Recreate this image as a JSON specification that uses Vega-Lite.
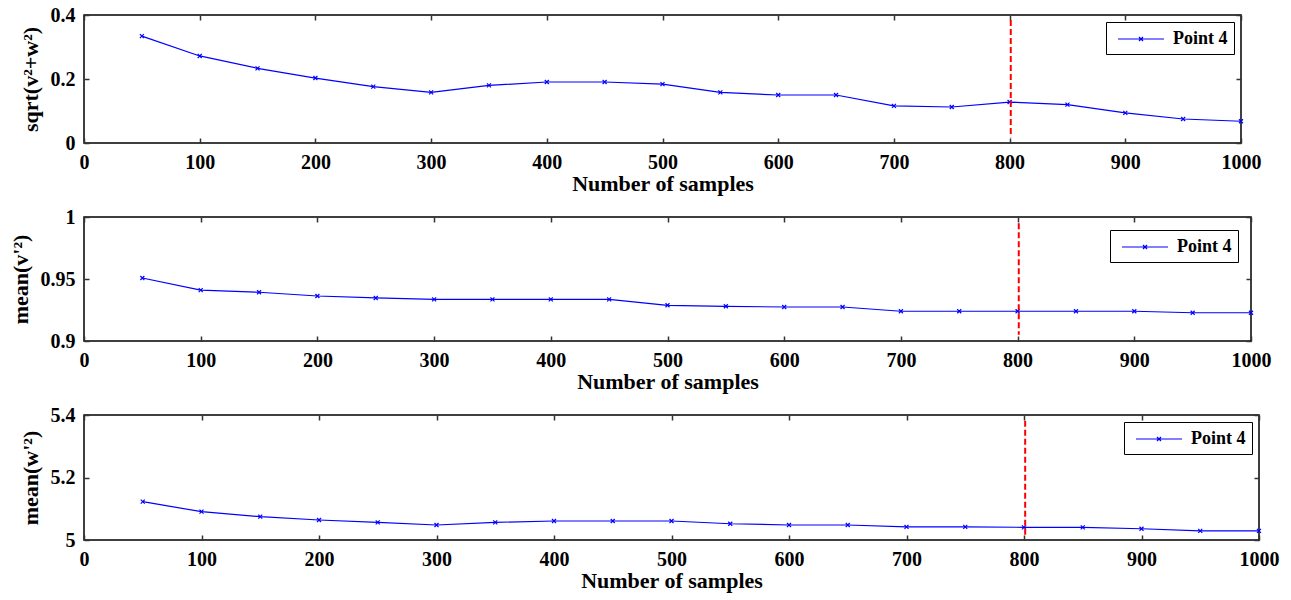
{
  "$schema": "https://vega.github.io/schema/vega-lite/v6.json",
  "padding": {"left": 8, "top": 4, "right": 5, "bottom": 5},
  "background": "white",
  "datasets": {
    "main": [
      {"n": 50, "s": 0.334, "v": 0.9508, "w": 5.1226},
      {"n": 100, "s": 0.272, "v": 0.941, "w": 5.0906},
      {"n": 150, "s": 0.2334, "v": 0.9393, "w": 5.0746},
      {"n": 200, "s": 0.203, "v": 0.9363, "w": 5.064},
      {"n": 250, "s": 0.176, "v": 0.9347, "w": 5.0566},
      {"n": 300, "s": 0.158, "v": 0.9336, "w": 5.048},
      {"n": 350, "s": 0.18, "v": 0.9336, "w": 5.0566},
      {"n": 400, "s": 0.1906, "v": 0.9336, "w": 5.0608},
      {"n": 450, "s": 0.1906, "v": 0.9336, "w": 5.0608},
      {"n": 500, "s": 0.184, "v": 0.9288, "w": 5.0608},
      {"n": 550, "s": 0.158, "v": 0.928, "w": 5.052},
      {"n": 600, "s": 0.15, "v": 0.9274, "w": 5.048},
      {"n": 650, "s": 0.15, "v": 0.9274, "w": 5.048},
      {"n": 700, "s": 0.116, "v": 0.924, "w": 5.042},
      {"n": 750, "s": 0.1125, "v": 0.924, "w": 5.042},
      {"n": 800, "s": 0.128, "v": 0.924, "w": 5.0406},
      {"n": 850, "s": 0.12, "v": 0.924, "w": 5.0406},
      {"n": 900, "s": 0.094, "v": 0.924, "w": 5.036},
      {"n": 950, "s": 0.075, "v": 0.9228, "w": 5.029},
      {"n": 1000, "s": 0.068, "v": 0.9228, "w": 5.029}
    ]
  },
  "vconcat": [
    {
      "width": 1157, "height": 128,
      "layer": [
        {
          "data": {"name": "main"},
          "mark": {"type": "line", "strokeWidth": 1.2},
          "encoding": {
            "x": {"field": "n", "type": "quantitative", "scale": {"domain": [0, 1000], "nice": false},
                  "axis": {"values": [0,100,200,300,400,500,600,700,800,900,1000], "format": "d", "title": "Number of samples", "orient": "bottom"}},
            "y": {"field": "s", "type": "quantitative", "scale": {"domain": [0, 0.4], "nice": false, "zero": false},
                  "axis": {"values": [0, 0.2, 0.4], "format": "~g", "title": "sqrt(v²+w²)", "orient": "left"}},
            "color": {"datum": "Point 4", "scale": {"range": ["#0000ff"]},
                      "legend": {"offset": 7, "encode": {"symbols": {"update": {"stroke": {"value": "#0000ff"}, "strokeWidth": {"value": 1.2}}}}}}
          }
        },
        {
          "data": {"name": "main"},
          "mark": {"type": "point", "shape": "M-1,-1L1,1M-1,1L1,-1", "size": 16, "filled": false, "stroke": "#0000ff", "strokeWidth": 1.2, "opacity": 1},
          "encoding": {
            "x": {"field": "n", "type": "quantitative", "axis": null},
            "y": {"field": "s", "type": "quantitative", "axis": null}
          }
        },
        {
          "data": {"values": [{"x": 801, "y1": 0.384, "y2": 0.018}]},
          "mark": {"type": "rule", "color": "#ff0000", "strokeWidth": 2, "strokeDash": [6, 3]},
          "encoding": {
            "x": {"field": "x", "type": "quantitative", "axis": null},
            "y": {"field": "y1", "type": "quantitative", "axis": null},
            "y2": {"field": "y2"}
          }
        },
        {
          "data": {"values": [{"x": 0, "y": 0}]},
          "mark": {"type": "point", "opacity": 0},
          "encoding": {
            "x": {"field": "x", "type": "quantitative", "axis": {"orient": "top", "values": [0,100,200,300,400,500,600,700,800,900,1000], "labels": false, "title": null, "domain": false}},
            "y": {"field": "y", "type": "quantitative", "axis": {"orient": "right", "values": [0, 0.2, 0.4], "labels": false, "title": null, "domain": false}}
          }
        }
      ],
      "resolve": {"axis": {"x": "independent", "y": "independent"}}
    },
    {
      "width": 1167, "height": 124,
      "layer": [
        {
          "data": {"name": "main"},
          "mark": {"type": "line", "strokeWidth": 1.2},
          "encoding": {
            "x": {"field": "n", "type": "quantitative", "scale": {"domain": [0, 1000], "nice": false},
                  "axis": {"values": [0,100,200,300,400,500,600,700,800,900,1000], "format": "d", "title": "Number of samples", "orient": "bottom"}},
            "y": {"field": "v", "type": "quantitative", "scale": {"domain": [0.9, 1], "nice": false, "zero": false},
                  "axis": {"values": [0.9, 0.95, 1], "format": "~g", "title": "mean(v'²)", "orient": "left"}},
            "color": {"datum": "Point 4", "scale": {"range": ["#0000ff"]},
                      "legend": {"offset": 13, "encode": {"symbols": {"update": {"stroke": {"value": "#0000ff"}, "strokeWidth": {"value": 1.2}}}}}}
          }
        },
        {
          "data": {"name": "main"},
          "mark": {"type": "point", "shape": "M-1,-1L1,1M-1,1L1,-1", "size": 16, "filled": false, "stroke": "#0000ff", "strokeWidth": 1.2, "opacity": 1},
          "encoding": {
            "x": {"field": "n", "type": "quantitative", "axis": null},
            "y": {"field": "v", "type": "quantitative", "axis": null}
          }
        },
        {
          "data": {"values": [{"x": 801, "y1": 0.995, "y2": 0.905}]},
          "mark": {"type": "rule", "color": "#ff0000", "strokeWidth": 2, "strokeDash": [6, 3]},
          "encoding": {
            "x": {"field": "x", "type": "quantitative", "axis": null},
            "y": {"field": "y1", "type": "quantitative", "axis": null},
            "y2": {"field": "y2"}
          }
        },
        {
          "data": {"values": [{"x": 0, "y": 0.9}]},
          "mark": {"type": "point", "opacity": 0},
          "encoding": {
            "x": {"field": "x", "type": "quantitative", "axis": {"orient": "top", "values": [0,100,200,300,400,500,600,700,800,900,1000], "labels": false, "title": null, "domain": false}},
            "y": {"field": "y", "type": "quantitative", "axis": {"orient": "right", "values": [0.9, 0.95, 1], "labels": false, "title": null, "domain": false}}
          }
        }
      ],
      "resolve": {"axis": {"x": "independent", "y": "independent"}}
    },
    {
      "width": 1175, "height": 125,
      "layer": [
        {
          "data": {"name": "main"},
          "mark": {"type": "line", "strokeWidth": 1.2},
          "encoding": {
            "x": {"field": "n", "type": "quantitative", "scale": {"domain": [0, 1000], "nice": false},
                  "axis": {"values": [0,100,200,300,400,500,600,700,800,900,1000], "format": "d", "title": "Number of samples", "orient": "bottom"}},
            "y": {"field": "w", "type": "quantitative", "scale": {"domain": [5, 5.4], "nice": false, "zero": false},
                  "axis": {"values": [5, 5.2, 5.4], "format": "~g", "title": "mean(w'²)", "orient": "left"}},
            "color": {"datum": "Point 4", "scale": {"range": ["#0000ff"]},
                      "legend": {"offset": 7, "encode": {"symbols": {"update": {"stroke": {"value": "#0000ff"}, "strokeWidth": {"value": 1.2}}}}}}
          }
        },
        {
          "data": {"name": "main"},
          "mark": {"type": "point", "shape": "M-1,-1L1,1M-1,1L1,-1", "size": 16, "filled": false, "stroke": "#0000ff", "strokeWidth": 1.2, "opacity": 1},
          "encoding": {
            "x": {"field": "n", "type": "quantitative", "axis": null},
            "y": {"field": "w", "type": "quantitative", "axis": null}
          }
        },
        {
          "data": {"values": [{"x": 801, "y1": 5.382, "y2": 5.01}]},
          "mark": {"type": "rule", "color": "#ff0000", "strokeWidth": 2, "strokeDash": [6, 3]},
          "encoding": {
            "x": {"field": "x", "type": "quantitative", "axis": null},
            "y": {"field": "y1", "type": "quantitative", "axis": null},
            "y2": {"field": "y2"}
          }
        },
        {
          "data": {"values": [{"x": 0, "y": 5}]},
          "mark": {"type": "point", "opacity": 0},
          "encoding": {
            "x": {"field": "x", "type": "quantitative", "axis": {"orient": "top", "values": [0,100,200,300,400,500,600,700,800,900,1000], "labels": false, "title": null, "domain": false}},
            "y": {"field": "y", "type": "quantitative", "axis": {"orient": "right", "values": [5, 5.2, 5.4], "labels": false, "title": null, "domain": false}}
          }
        }
      ],
      "resolve": {"axis": {"x": "independent", "y": "independent"}}
    }
  ],
  "spacing": 74,
  "bounds": "flush",
  "resolve": {"scale": {"color": "independent"}, "legend": {"color": "independent"}},
  "config": {
    "font": "Liberation Serif",
    "view": {"stroke": "black", "strokeWidth": 1.5},
    "legend": {
      "orient": "top-right", "title": null, "strokeColor": "black", "fillColor": "white", "padding": 6,
      "symbolType": "M-2.3,0L2.3,0M-0.2,-0.2L0.2,0.2M-0.2,0.2L0.2,-0.2", "symbolSize": 400, "symbolStrokeWidth": 1.2,
      "symbolStrokeColor": "#0000ff", "symbolFillColor": "transparent", "symbolOffset": 18, "labelOffset": 21,
      "labelFontSize": 18, "labelFont": "Liberation Serif", "labelFontWeight": "bold", "labelColor": "black"
    },
    "axis": {
      "grid": false,
      "domain": false,
      "tickSize": -5,
      "tickColor": "#333",
      "tickWidth": 1.5,
      "labelPadding": 14,
      "labelFont": "Liberation Serif",
      "labelFontSize": 20,
      "labelFontWeight": "bold",
      "labelColor": "black",
      "titleFont": "Liberation Serif",
      "titleFontSize": 22,
      "titleFontWeight": "bold",
      "titleColor": "black",
      "titlePadding": 1
    },
    "axisBottom": {"labelFlush": false, "labelOverlap": false},
    "axisLeft": {"labelPadding": 14, "titlePadding": 8}
  }
}
